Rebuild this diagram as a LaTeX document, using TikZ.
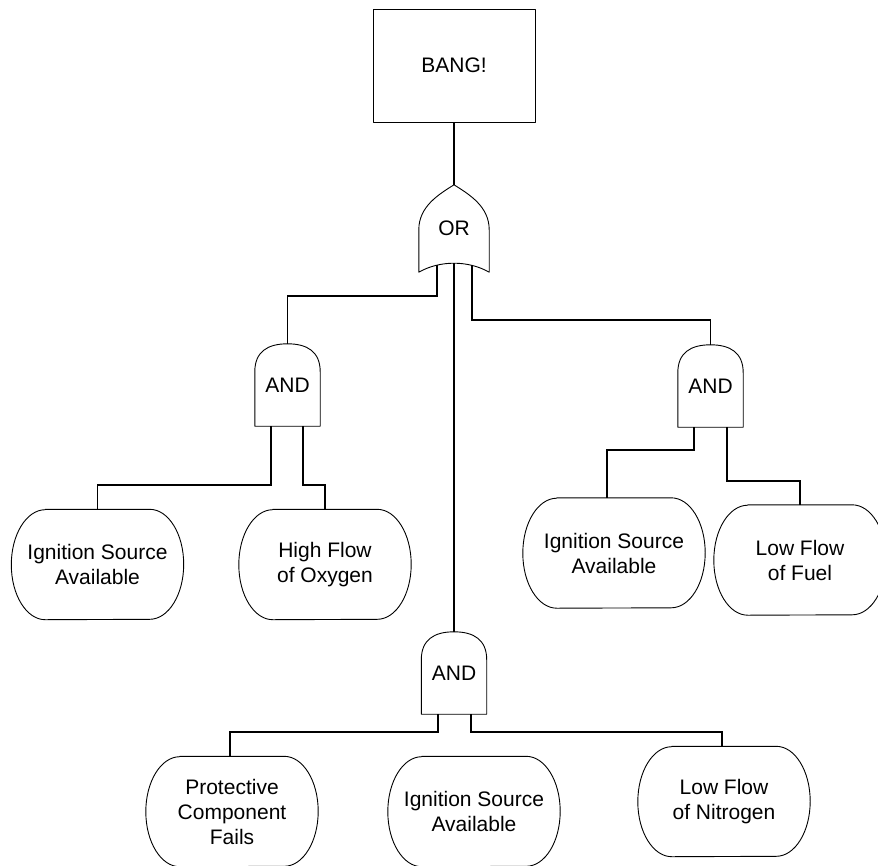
\documentclass[tikz,border=0pt]{standalone}
\usepackage{fontspec}
\setmainfont{Liberation Sans}
\usetikzlibrary{calc}
\begin{document}
\begin{tikzpicture}[x=1pt,y=-1pt,
  font=\fontsize{21}{25}\selectfont,
  outline/.style={line width=0.9pt, line join=round},
  wire/.style={line width=1.8pt},
  topbox/.style={draw, outline, minimum width=162pt, minimum height=113pt, inner sep=0pt},
  gatebox/.style={minimum width=65pt, minimum height=82pt, inner sep=0pt},
  orbox/.style={minimum width=70pt, minimum height=87pt, inner sep=0pt},
  evt/.style={minimum width=172pt, minimum height=110pt, inner sep=0pt, align=center}]
\useasboundingbox (0,0) rectangle (878,865);
\clip (0,0) rectangle (878,865);
\fill[white] (0,0) rectangle (878,865);

% nodes
\node[topbox] (bang) at (454,65.5) {BANG!};
\node[orbox] (og) at (454,228.5) {OR};
\node[gatebox] (a1) at (287.5,385) {AND};
\node[gatebox] (a2) at (710.5,386) {AND};
\node[gatebox] (a3) at (454,673) {AND};

\node[evt] (e1) at (97.5,564.5) {Ignition Source\\Available};
\node[evt] (e2) at (325,564.5) {High Flow\\of Oxygen};
\node[evt, minimum width=182pt] (e3) at (614,553) {Ignition Source\\Available};
\node[evt] (e4) at (800,560) {Low Flow\\of Fuel};
\node[evt] (e5) at (232,811.5) {Protective\\Component\\Fails};
\node[evt] (e6) at (474,811.5) {Ignition Source\\Available};
\node[evt] (e7) at (724,801.5) {Low Flow\\of Nitrogen};

% OR gate outline
\draw[outline] (og.south west) -- ($(og.north west)+(0,45)$)
  .. controls ($(og.north west)+(0,22)$) and ($(og.north)+(-16,10)$) .. (og.north)
  .. controls ($(og.north)+(16,10)$) and ($(og.north east)+(0,22)$) .. ($(og.north east)+(0,45)$)
  -- (og.south east)
  .. controls ($(og.south east)+(-21,-12)$) and ($(og.south west)+(21,-12)$) .. (og.south west) -- cycle;

% AND gate outlines
\foreach \n in {a1,a2,a3}{
  \draw[outline] (\n.south west) -- ($(\n.north west)+(0,28)$)
    .. controls ($(\n.north west)+(0,8)$) and ($(\n.north)+(-20,0)$) .. (\n.north)
    .. controls ($(\n.north)+(20,0)$) and ($(\n.north east)+(0,8)$) .. ($(\n.north east)+(0,28)$)
    -- (\n.south east) -- cycle;
}

% event outlines
\foreach \n in {e1,e2,e3,e4,e5,e6,e7}{
  \draw[outline] ($(\n.north west)+(34,0)$) -- ($(\n.north east)+(-34,0)$)
    arc[start angle=90, end angle=-90, x radius=34pt, y radius=55pt]
    -- ($(\n.south west)+(34,0)$)
    arc[start angle=270, end angle=90, x radius=34pt, y radius=55pt] -- cycle;
}

% connectors
\draw[wire] (bang.south) -- (og.north);
\draw[wire] ($(og.south)+(-17,-7)$) -- ++(0,31) -| (a1.north);
\draw[wire] ($(og.south)+(0,-9)$) -- (a3.north);
\draw[wire] ($(og.south)+(18,-7)$) -- ++(0,55) -| (a2.north);

\draw[wire] ($(a1.south)+(-16.5,0)$) -- ++(0,59) -| (e1.north);
\draw[wire] ($(a1.south)+(15.5,0)$) -- ++(0,59) -| (e2.north);

\draw[wire] ($(a2.south)+(-16.5,0)$) -- ++(0,23) -| ($(e3.north)+(-7,0)$);
\draw[wire] ($(a2.south)+(16.5,0)$) -- ++(0,54) -| (e4.north);

\draw[wire] ($(a3.south)+(-16,0)$) -- ++(0,18) -| ($(e5.north)+(-2,0)$);
\draw[wire] ($(a3.south)+(17,0)$) -- ++(0,18) -| ($(e7.north)+(-2,0)$);
\end{tikzpicture}
\end{document}
